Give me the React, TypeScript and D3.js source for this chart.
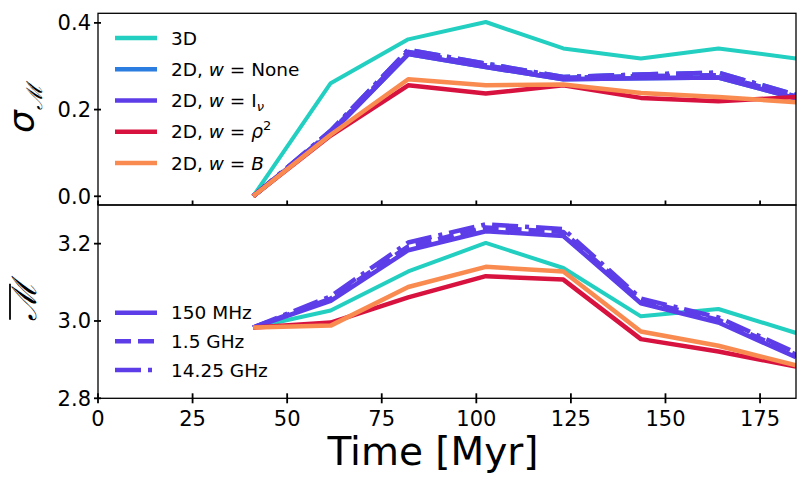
import React from "react";
import * as d3 from "d3";

const times = [41, 61.5, 82, 102.5, 123, 143.5, 164, 184.5];

// Top panel: sigma_M
const top3D = [0, 0.261, 0.362, 0.402, 0.341, 0.318, 0.341, 0.318];
const topNone150 = [0, 0.145, 0.328, 0.298, 0.270, 0.272, 0.274, 0.226];
const topNone1500 = [0, 0.148, 0.333, 0.302, 0.273, 0.277, 0.279, 0.230];
const topNone14250 = [0, 0.151, 0.338, 0.306, 0.275, 0.281, 0.285, 0.234];
const topInu150 = [0, 0.145, 0.328, 0.298, 0.270, 0.272, 0.274, 0.226];
const topInu1500 = [0, 0.148, 0.333, 0.302, 0.273, 0.277, 0.279, 0.230];
const topInu14250 = [0, 0.151, 0.338, 0.306, 0.275, 0.281, 0.285, 0.234];
const topRho2 = [0, 0.140, 0.256, 0.237, 0.256, 0.227, 0.219, 0.229];
const topB = [0, 0.142, 0.270, 0.256, 0.258, 0.238, 0.229, 0.217];

// Bottom panel: mean Mach
const bot3D = [2.983, 3.027, 3.128, 3.202, 3.137, 3.012, 3.031, 2.969];
const botInu150 = [2.983, 3.052, 3.183, 3.232, 3.220, 3.046, 2.996, 2.906];
const botInu1500 = [2.983, 3.058, 3.193, 3.242, 3.230, 3.053, 3.003, 2.913];
const botInu14250 = [2.983, 3.064, 3.203, 3.250, 3.238, 3.058, 3.009, 2.918];
const botRho2 = [2.983, 2.996, 3.061, 3.116, 3.107, 2.953, 2.921, 2.882];
const botB = [2.983, 2.988, 3.088, 3.140, 3.128, 2.973, 2.936, 2.885];

const xTicks = [0, 25, 50, 75, 100, 125, 150, 175];
const topYTicks = [0.0, 0.2, 0.4];
const botYTicks = [2.8, 3.0, 3.2];
const freqLabels = ["150 MHz", "1.5 GHz", "14.25 GHz"];

const C_TEAL = "#22cfc0";
const C_BLUE = "#2b7de0";
const C_PURPLE = "#5c3de8";
const C_RED = "#d8123f";
const C_ORANGE = "#f98b50";

const LW = 4.5;
const DASH = "16,7";
const DASHDOT = "26,7,4,7";

const FONT = "DejaVu Sans, sans-serif";

export default function App() {
  const W = 809, H = 480;
  const x0 = 98, x1 = 796;
  const topY0 = 13.3, topY1 = 205;
  const botY0 = 205, botY1 = 398.3;

  const x = d3.scaleLinear().domain([0, 184.5]).range([x0, x1]);
  const yTop = d3.scaleLinear().domain([-0.0201, 0.4221]).range([topY1, topY0]);
  const yBot = d3.scaleLinear().domain([2.8, 3.3]).range([botY1, botY0]);

  const lineTop = d3.line<number>().x((_, i) => x(times[i])).y((d) => yTop(d));
  const lineBot = d3.line<number>().x((_, i) => x(times[i])).y((d) => yBot(d));

  const topSeries = [
    { d: top3D, c: C_TEAL, dash: undefined, w: 4 },
    { d: topNone150, c: C_BLUE, dash: undefined, w: LW },
    { d: topNone1500, c: C_BLUE, dash: DASH, w: LW },
    { d: topNone14250, c: C_BLUE, dash: DASHDOT, w: LW },
    { d: topInu150, c: C_PURPLE, dash: undefined, w: LW },
    { d: topInu1500, c: C_PURPLE, dash: DASH, w: LW },
    { d: topInu14250, c: C_PURPLE, dash: DASHDOT, w: LW },
    { d: topRho2, c: C_RED, dash: undefined, w: LW },
    { d: topB, c: C_ORANGE, dash: undefined, w: LW },
  ];
  const botSeries = [
    { d: bot3D, c: C_TEAL, dash: undefined, w: 4 },
    { d: botInu150, c: C_PURPLE, dash: undefined, w: LW },
    { d: botInu1500, c: C_PURPLE, dash: DASH, w: LW },
    { d: botInu14250, c: C_PURPLE, dash: DASHDOT, w: LW },
    { d: botRho2, c: C_RED, dash: undefined, w: LW },
    { d: botB, c: C_ORANGE, dash: undefined, w: LW },
  ];

  const tickFs = 21;
  const legFs = 18.5;

  const topLegend = [
    { c: C_TEAL, label: <tspan>3D</tspan> },
    {
      c: C_BLUE,
      label: (
        <tspan>
          2D, <tspan fontStyle="italic">w</tspan> = None
        </tspan>
      ),
    },
    {
      c: C_PURPLE,
      label: (
        <tspan>
          2D, <tspan fontStyle="italic">w</tspan> = I
          <tspan fontStyle="italic" fontSize={13} dy={4}>ν</tspan>
        </tspan>
      ),
    },
    {
      c: C_RED,
      label: (
        <tspan>
          2D, <tspan fontStyle="italic">w</tspan> = <tspan fontStyle="italic">ρ</tspan>
          <tspan fontSize={13} dy={-8}>2</tspan>
        </tspan>
      ),
    },
    {
      c: C_ORANGE,
      label: (
        <tspan>
          2D, <tspan fontStyle="italic">w</tspan> = <tspan fontStyle="italic">B</tspan>
        </tspan>
      ),
    },
  ];
  const topLegY = [38, 69.3, 100.5, 131.7, 163];
  const botLegY = [312.7, 341.3, 370];
  const botDash = [undefined, DASH, DASHDOT];

  return (
    <svg width={W} height={H} style={{ display: "block", position: "absolute", left: 0, top: 0 }} fontFamily={FONT}>
      <rect width={W} height={H} fill="#fff" />
      <defs>
        <clipPath id="clipTop">
          <rect x={x0} y={topY0} width={x1 - x0} height={topY1 - topY0} />
        </clipPath>
        <clipPath id="clipBot">
          <rect x={x0} y={botY0} width={x1 - x0} height={botY1 - botY0} />
        </clipPath>
      </defs>

      {/* Top panel lines */}
      <g clipPath="url(#clipTop)">
        {topSeries.map((s, i) => (
          <path key={i} d={lineTop(s.d) || ""} fill="none" stroke={s.c} strokeWidth={s.w}
            strokeDasharray={s.dash} strokeLinejoin="round" strokeLinecap="butt" />
        ))}
      </g>
      {/* Bottom panel lines */}
      <g clipPath="url(#clipBot)">
        {botSeries.map((s, i) => (
          <path key={i} d={lineBot(s.d) || ""} fill="none" stroke={s.c} strokeWidth={s.w}
            strokeDasharray={s.dash} strokeLinejoin="round" strokeLinecap="butt" />
        ))}
      </g>

      {/* Frames */}
      <rect x={x0} y={topY0} width={x1 - x0} height={topY1 - topY0} fill="none" stroke="#000" strokeWidth={1.3} />
      <rect x={x0} y={botY0} width={x1 - x0} height={botY1 - botY0} fill="none" stroke="#000" strokeWidth={1.3} />

      {/* Top panel x ticks (inward) */}
      {xTicks.map((t) => (
        <line key={"tt" + t} x1={x(t)} x2={x(t)} y1={topY1} y2={topY1 - 4.5} stroke="#000" strokeWidth={1.8} />
      ))}
      {/* Bottom panel x ticks (inout) */}
      {xTicks.map((t) => (
        <g key={"bt" + t}>
          <line x1={x(t)} x2={x(t)} y1={botY1 - 5} y2={botY1 + 5} stroke="#000" strokeWidth={1.8} />
          <text x={x(t)} y={botY1 + 28} fontSize={tickFs} textAnchor="middle">{t}</text>
        </g>
      ))}
      {/* Top y ticks */}
      {topYTicks.map((v) => (
        <g key={"ty" + v}>
          <line x1={x0 - 4} x2={x0 + 3} y1={yTop(v)} y2={yTop(v)} stroke="#000" strokeWidth={1.8} />
          <text x={x0 - 7} y={yTop(v) + 7.5} fontSize={tickFs} textAnchor="end">{v.toFixed(1)}</text>
        </g>
      ))}
      {/* Bottom y ticks */}
      {botYTicks.map((v) => (
        <g key={"by" + v}>
          <line x1={x0 - 4} x2={x0 + 3} y1={yBot(v)} y2={yBot(v)} stroke="#000" strokeWidth={1.8} />
          <text x={x0 - 7} y={yBot(v) + 7.5} fontSize={tickFs} textAnchor="end">{v.toFixed(1)}</text>
        </g>
      ))}

      {/* Axis labels */}
      <text x={433} y={465} fontSize={39} textAnchor="middle">Time [Myr]</text>
      <g transform={`translate(34, ${(topY0 + topY1) / 2}) rotate(-90)`}>
        <text x={0} y={0} textAnchor="middle" fontSize={36}>
          <tspan fontStyle="italic">σ</tspan>
          <tspan fontSize={22} dy={8} fontFamily="DejaVu Serif, serif" fontStyle="italic">ℳ</tspan>
        </text>
      </g>
      <g transform={`translate(36, ${(botY0 + botY1) / 2}) rotate(-90)`}>
        <text x={0} y={0} textAnchor="middle" fontSize={34} fontFamily="DejaVu Serif, serif" fontStyle="italic">ℳ</text>
        <line x1={-18} x2={18} y1={-26} y2={-26} stroke="#000" strokeWidth={1.8} />
      </g>

      {/* Top legend */}
      {topLegend.map((l, i) => (
        <g key={"tl" + i}>
          <line x1={115} x2={157} y1={topLegY[i]} y2={topLegY[i]} stroke={l.c} strokeWidth={4.5} />
          <text x={171} y={topLegY[i] + 6.5} fontSize={legFs}>{l.label}</text>
        </g>
      ))}
      {/* Bottom legend */}
      {freqLabels.map((f, i) => (
        <g key={"bl" + i}>
          <line x1={115} x2={157} y1={botLegY[i]} y2={botLegY[i]} stroke={C_PURPLE} strokeWidth={4.5}
            strokeDasharray={botDash[i]} />
          <text x={171} y={botLegY[i] + 6.5} fontSize={legFs}>{f}</text>
        </g>
      ))}
    </svg>
  );
}
